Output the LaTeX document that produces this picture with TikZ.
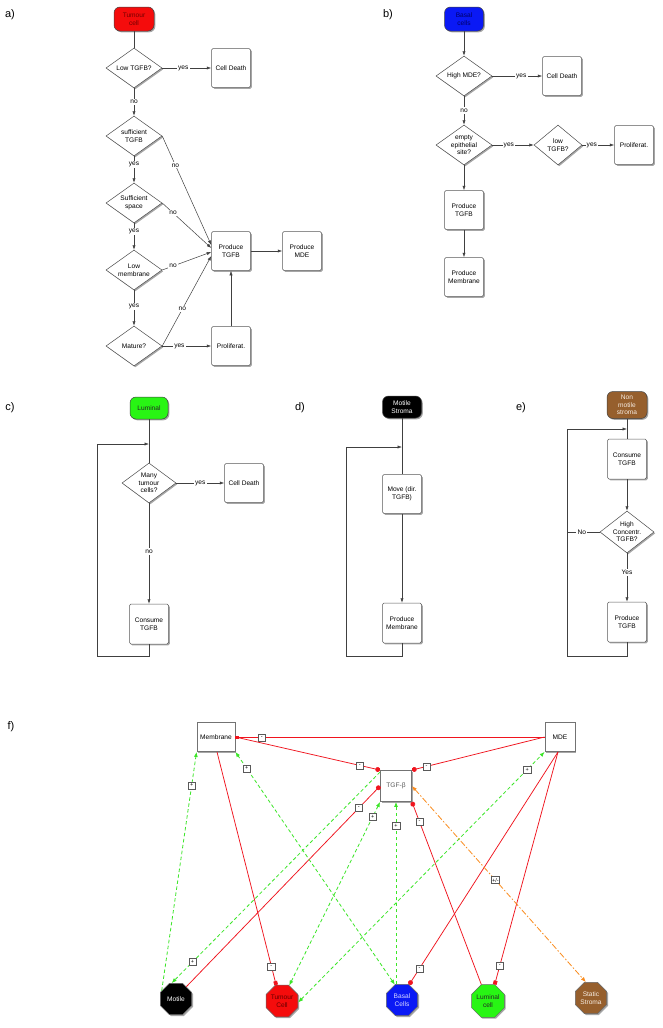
\documentclass[tikz,border=0pt]{standalone}
\usepackage{fontspec}
\setmainfont{Liberation Sans}
\usetikzlibrary{shapes.geometric,shadows,arrows.meta}
\definecolor{cred}{RGB}{245,12,12}
\definecolor{cgreen}{RGB}{40,245,20}
\definecolor{cblue}{RGB}{10,25,245}
\definecolor{cbrown}{RGB}{150,95,45}
\definecolor{corange}{RGB}{250,140,30}
\definecolor{lred}{RGB}{240,20,30}
\definecolor{lgreen}{RGB}{60,230,40}
\tikzset{
  shd/.style={drop shadow={shadow xshift=1.3pt,shadow yshift=-1.3pt,opacity=0.35,fill=black}},
  txt/.style={font=\fontsize{6.6}{7.6}\selectfont},
  proc/.style={txt,draw=black!65,fill=white,line width=0.5pt,rounded corners=1.5pt,minimum width=39pt,minimum height=39pt,align=center,inner sep=1pt,shd},
  dec/.style={diamond,draw=black!70,fill=white,line width=0.5pt,minimum width=56pt,minimum height=40pt,inner sep=0pt,shd},
  dtxt/.style={txt,align=center,inner sep=0pt},
  startbox/.style={txt,draw=black!75,line width=0.5pt,rounded corners=6pt,minimum width=40pt,minimum height=24pt,align=center,inner sep=1pt,shd},
  flow/.style={draw=black!75,line width=0.5pt,-{Latex[length=4.5pt,width=3.2pt]}},
  plainln/.style={draw=black!75,line width=0.5pt},
  lab/.style={txt,fill=white,inner sep=1.2pt},
  panel/.style={font=\fontsize{11}{13}\selectfont,inner sep=0pt},
  fbox/.style={txt,draw=black!55,fill=white,line width=0.9pt,align=center,inner sep=1pt,shd},
  oct/.style={txt,regular polygon,regular polygon sides=8,minimum size=34pt,inner sep=0pt,draw=black!60,line width=0.5pt,align=center,shd},
  inh/.style={draw=lred,line width=0.75pt},
  act/.style={draw=lgreen,line width=0.8pt,dash pattern=on 3.5pt off 2.5pt},
  orl/.style={draw=corange,line width=0.8pt,dash pattern=on 6pt off 2pt on 1.5pt off 2pt},
  sg/.style={solid,font=\fontsize{5.5}{5.5}\selectfont,text=black,draw=black!65,fill=white,line width=0.45pt,inner sep=0.6pt,minimum width=7.5pt,minimum height=7pt},
  sqtip/.style={-{Square[length=3.8pt,width=3.8pt]}},
  dottip/.style={-{Circle[length=4.8pt]}},
  gtip/.style={-{Latex[length=5pt,width=4pt]}},
  gtips/.style={{Latex[length=5pt,width=4pt]}-{Latex[length=5pt,width=4pt]}},
}
\newcommand\mydec[4][]{\node[dec,#1] (#2) at (#3) {}; \node[dtxt] at (#2) {#4};}
\begin{document}
\begin{tikzpicture}[x=1pt,y=-1pt]
\fill[white] (0,0) rectangle (663,1028);
\useasboundingbox (0,0) rectangle (663,1028);

% ---------------- a)
\node[panel] at (10,15) {a)};
\node[startbox,fill=cred,text=black!55!red] (ts) at (134,19) {Tumour\\cell};
\mydec{d1}{134,68}{Low TGFB?}
\node[proc] (cd1) at (231,68) {Cell Death};
\mydec{d2}{134,136}{sufficient\\TGFB}
\mydec{d3}{134,203}{Sufficient\\space}
\mydec{d4}{134,270}{Low\\membrane}
\mydec{d5}{134,346}{Mature?}
\node[proc] (pt) at (231,251) {Produce\\TGFB};
\node[proc] (pmde) at (302,251) {Produce\\MDE};
\node[proc] (pr) at (231,346) {Proliferat.};
\draw[plainln] (ts.south) -- (d1.north);
\draw[flow] (d1.east) -- node[lab,pos=0.43]{yes} (cd1.west);
\draw[flow] (d1.south) -- node[lab]{no} (d2.north);
\draw[flow] (d2.east) -- node[lab,pos=0.27]{no} ([yshift=6pt]pt.west);
\draw[flow] (d2.south) -- node[lab,pos=0.3]{yes} (d3.north);
\draw[flow] (d3.east) -- node[lab,pos=0.22]{no} ([yshift=3pt]pt.west);
\draw[flow] (d3.south) -- node[lab,pos=0.3]{yes} (d4.north);
\draw[flow] (d4.east) -- node[lab,pos=0.22]{no} ([yshift=-1pt]pt.west);
\draw[flow] (d4.south) -- node[lab,pos=0.45]{yes} (d5.north);
\draw[flow] (d5.east) -- node[lab,pos=0.41]{no} ([yshift=-5pt]pt.west);
\draw[flow] (d5.east) -- node[lab,pos=0.35]{yes} (pr.west);
\draw[flow] (pr.north) -- (pt.south);
\draw[flow] (pt.east) -- (pmde.west);

% ---------------- b)
\node[panel] at (388,15) {b)};
\node[startbox,fill=cblue,text=black!60!blue,minimum width=39pt] (bs) at (464,19) {Basal\\cells};
\mydec{e1}{464,76}{High MDE?}
\node[proc] (cd2) at (562,76) {Cell Death};
\mydec{e2}{464,145}{empty\\epithelial\\site?}
\mydec[minimum width=48pt]{e3}{558,145}{low\\TGFB?}
\node[proc] (pr2) at (634,145) {Proliferat.};
\node[proc] (pt2) at (464,210) {Produce\\TGFB};
\node[proc] (pm2) at (464,277) {Produce\\Membrane};
\draw[flow] (bs.south) -- (e1.north);
\draw[flow] (e1.east) -- node[lab,pos=0.58]{yes} (cd2.west);
\draw[flow] (e1.south) -- node[lab]{no} (e2.north);
\draw[flow] (e2.east) -- node[lab,pos=0.4]{yes} (e3.west);
\draw[flow] (e3.east) -- node[lab,pos=0.3]{yes} (pr2.west);
\draw[flow] (e2.south) -- (pt2.north);
\draw[flow] (pt2.south) -- (pm2.north);

% ---------------- c)
\node[panel] at (10,408) {c)};
\node[startbox,fill=cgreen,text=black!85,minimum width=38pt,minimum height=22pt] (lum) at (149,408) {Luminal};
\mydec[minimum width=54pt]{c1}{149,483}{Many\\tumour\\cells?}
\node[proc] (cd3) at (244,483) {Cell Death};
\node[proc,minimum height=40pt] (ct) at (149,624) {Consume\\TGFB};
\coordinate (cj) at (149,444);
\draw[plainln] (lum.south) -- (c1.north);
\draw[flow] (c1.east) -- node[lab,pos=0.5]{yes} (cd3.west);
\draw[flow] (c1.south) -- node[lab,pos=0.48]{no} (ct.north);
\draw[flow] (ct.south) |- (97,656) -- (97,444) -- (cj);

% ---------------- d)
\node[panel] at (300,408) {d)};
\node[startbox,fill=black,text=white,minimum width=39pt,minimum height=22pt] (ms) at (402,407) {Motile\\Stroma};
\node[proc] (mv) at (402,494) {Move (dir.\\TGFB)};
\node[proc,minimum height=40pt] (pmd) at (402,623) {Produce\\Membrane};
\coordinate (dj) at (402,447);
\draw[plainln] (ms.south) -- (mv.north);
\draw[flow] (mv.south) -- (pmd.north);
\draw[flow] (pmd.south) |- (346,656) -- (346,447) -- (dj);

% ---------------- e)
\node[panel] at (521,408) {e)};
\node[startbox,fill=cbrown,text=white!85!brown,minimum width=40pt,minimum height=27pt] (nm) at (627,405) {Non\\motile\\stroma};
\node[proc,minimum height=40pt] (ce) at (627,459) {Consume\\TGFB};
\mydec[minimum width=54pt,minimum height=42pt]{ed}{627,532}{High\\Concentr.\\TGFB?}
\node[proc,minimum height=40pt] (pte) at (627,622) {Produce\\TGFB};
\coordinate (ej) at (627,429);
\coordinate (eno) at (567,532);
\draw[plainln] (nm.south) -- (ce.north);
\draw[flow] (ce.south) -- (ed.north);
\draw[flow] (ed.south) -- node[lab,pos=0.4]{Yes} (pte.north);
\draw[plainln] (ed.west) -- node[lab,pos=0.55]{No} (eno);
\draw[flow] (pte.south) |- (567,656) -- (567,429) -- (ej);

% ---------------- f)
\node[panel] at (11,727) {f)};
\node[fbox,minimum width=38pt,minimum height=29pt] (mem) at (216,737) {Membrane};
\node[fbox,minimum width=30pt,minimum height=29pt] (mde) at (560,737) {MDE};
\node[fbox,minimum width=31pt,minimum height=31pt,text=black!65] (tgf) at (396,786) {TGF-β};
\node[oct,fill=black,text=white] (mot) at (176,999) {Motile};
\node[oct,fill=cred,text=black!60!red] (tum) at (282,1001) {Tumour\\Cell};
\node[oct,fill=cblue,text=blue!15] (bas) at (402,1000) {Basal\\Cells};
\node[oct,fill=cgreen,text=black!85] (lumc) at (488,1001) {Luminal\\cell};
\node[oct,fill=cbrown,text=white!85!brown] (sst) at (591,998) {Static\\Stroma};

% inhibitions
\draw[inh,line width=1pt,sqtip] ([yshift=-0.5pt]mde.west) -- node[sg,pos=0.915]{-} ([yshift=-0.5pt]mem.east);
\draw[inh,dottip] (mem.east) -- node[sg,pos=0.86]{-} (tgf.north west);
\draw[inh,dottip] (mde.west) -- node[sg,pos=0.89]{-} (tgf.north east);
\draw[inh,dottip] (mot.50) -- node[sg,pos=0.89]{-} (tgf.west);
\draw[inh,sqtip] ([xshift=1pt]mem.south) -- node[sg,pos=0.92]{-} (tum.110);
\draw[inh,dottip] (lumc.112) -- node[sg,pos=0.89]{-} (tgf.south east);
\draw[inh,dottip] ([xshift=-2pt]mde.south) -- node[sg,pos=0.93]{-} (bas.65);
\draw[inh,sqtip] ([xshift=-2pt]mde.south) -- node[sg,pos=0.92]{-} (lumc.68);

% activations
\draw[act,gtip] (mot.150) -- node[sg,pos=0.86]{+} (mem.south west);
\draw[act,gtips] (bas.115) -- node[sg,pos=0.93]{+} (mem.south east);
\draw[act,gtip] ([yshift=-2pt]tgf.north west) -- node[sg,pos=0.9]{+} (mot.105);
\draw[act,gtips] (tum.65) -- node[sg,pos=0.92]{+} (tgf.south west);
\draw[act,gtip] (tgf.south |- bas.north) -- node[sg,pos=0.87]{+} (tgf.south);
\draw[act,gtips] (tum.-5) -- node[sg,pos=0.93]{+} (mde.south west);
\draw[orl,gtips] (tgf.east) -- node[sg,pos=0.48]{+/-} (sst.108);
\end{tikzpicture}
\end{document}
